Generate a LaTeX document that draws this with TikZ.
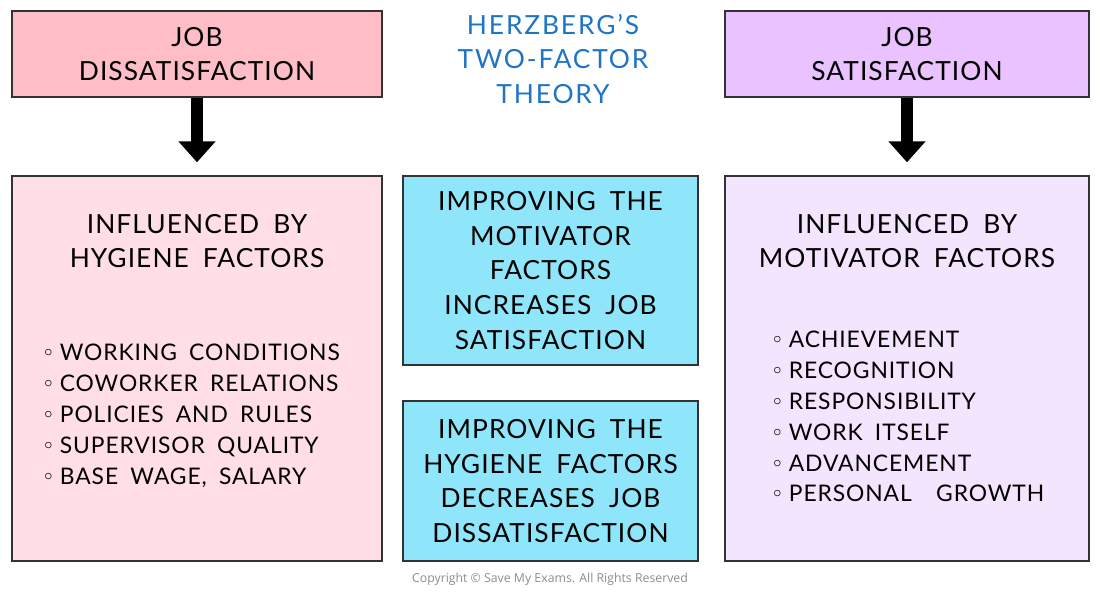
\documentclass[tikz,border=0pt]{standalone}
\usepackage{fontspec}
\setmainfont{Lato}[LetterSpace=4,WordSpace=1.8]
\newfontfamily\copyfont{Open Sans}
\usetikzlibrary{arrows.meta,positioning}
\definecolor{pinkhead}{HTML}{FFBDC8}
\definecolor{pinkbody}{HTML}{FFDFE5}
\definecolor{lavhead}{HTML}{E9C2FF}
\definecolor{lavbody}{HTML}{F4E5FE}
\definecolor{cyanbox}{HTML}{8FE6FA}
\definecolor{titleblue}{HTML}{1F74C6}
\newcommand{\lbul}{\makebox[0.68em][l]{\raisebox{0.35ex}{$\scriptstyle\circ$}}}
\tikzset{
  box/.style={draw=black!80, line width=0.85pt, inner sep=0pt, align=center},
  bigtxt/.style={font=\fontsize{15}{19.8}\selectfont, align=center},
  listtxt/.style={font=\fontsize{13}{17.6}\selectfont, align=left, anchor=west, inner sep=0pt},
  downarrow/.style={line width=0.24cm, -{Triangle[length=0.42cm,width=0.72cm]}, shorten >=0.26cm}
}
\begin{document}
\begin{tikzpicture}[x=0.02cm, y=-0.02cm]
		\useasboundingbox (0,0) rectangle (1100,592);
		
		% top boxes and title
		\node[box, fill=pinkhead, minimum width=7.4cm, minimum height=1.72cm, bigtxt] (dissat) at (197,54) {JOB\\DISSATISFACTION};
		\node[box, fill=lavhead, minimum width=7.28cm, minimum height=1.72cm, bigtxt] (satis) at (907,54) {JOB\\SATISFACTION};
		\node[bigtxt, text=titleblue, font=\fontsize{15}{19.8}\addfontfeatures{LetterSpace=7}\selectfont] (title) at (553,59) {HERZBERG’S\\TWO-FACTOR\\THEORY};
		
		% big side boxes
		\node[box, fill=pinkbody, minimum width=7.4cm, minimum height=7.7cm] (hygiene) at (197,368.5) {};
		\node[box, fill=lavbody, minimum width=7.28cm, minimum height=7.7cm] (motiv) at (907,368.5) {};
		
		\node[bigtxt] (hyghead) at (197,241) {INFLUENCED BY\\HYGIENE FACTORS};
		\node[bigtxt] (motivhead) at (907,241) {INFLUENCED BY\\MOTIVATOR FACTORS};
		
		\node[listtxt] (hyglist) at (44,416) {\lbul WORKING CONDITIONS\\\lbul COWORKER RELATIONS\\\lbul POLICIES AND RULES\\\lbul SUPERVISOR QUALITY\\\lbul BASE WAGE, SALARY};
		\node[listtxt] (motivlist) at (773,416.5) {\lbul ACHIEVEMENT\\\lbul RECOGNITION\\\lbul RESPONSIBILITY\\\lbul WORK ITSELF\\\lbul ADVANCEMENT\\\lbul PERSONAL \ GROWTH};
		
		% middle boxes
		\node[box, fill=cyanbox, minimum width=5.9cm, minimum height=3.78cm, bigtxt] (improvemot) at (550.5,270.5) {IMPROVING THE\\MOTIVATOR\\FACTORS\\INCREASES JOB\\SATISFACTION};
		\node[box, fill=cyanbox, minimum width=5.9cm, minimum height=3.2cm, bigtxt] (improvehyg) at (550.5,481) {IMPROVING THE\\HYGIENE FACTORS\\DECREASES JOB\\DISSATISFACTION};
		
		% arrows
		\draw[downarrow] (dissat.south) -- (hygiene.north);
		\draw[downarrow] (satis.south) -- (motiv.north);
		
		\node[text=black!45, font=\copyfont\fontsize{7}{8}\selectfont] (copy) at (550,579) {Copyright © Save My Exams. All Rights Reserved};
\end{tikzpicture}
\end{document}
